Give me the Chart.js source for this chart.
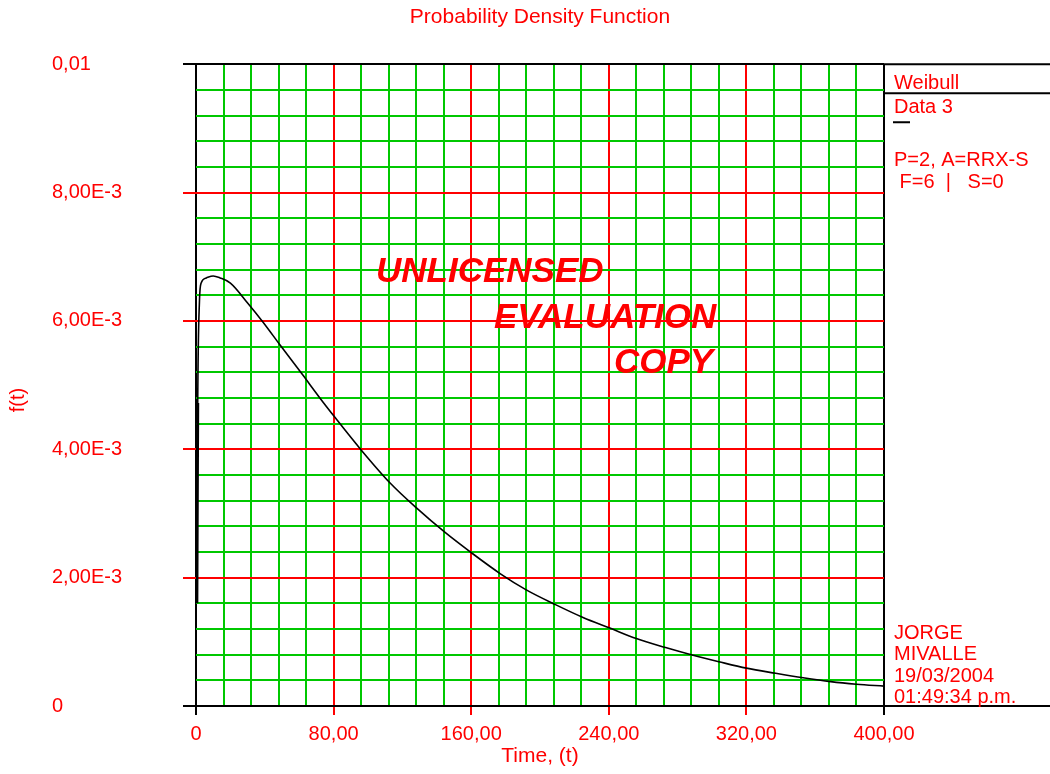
<!DOCTYPE html>
<html lang="en">
  <head>
    <meta charset="UTF-8" />
    <meta name="viewport" content="width=device-width, initial-scale=1.0" />
    <script src="https://cdn.jsdelivr.net/npm/chart.js"></script>
    <title>Probability Density Function</title>
    <style>
      html,
      body {
        margin: 0;
        padding: 0;
        background: #fff;
      }
      .chart-box {
        position: relative;
        width: 1050px;
        height: 774px;
      }
    </style>
  </head>

  <body>
    <div class="chart-box">
      <canvas id="pdfChart"></canvas>
    </div>
  </body>
</html>

<script>
  // f(t) of the Weibull fit, sampled along the time axis
  const times = [0.5, 1.0, 2.0, 3, 6, 10, 14, 20, 30, 39, 49, 62, 72, 81, 96, 113, 128, 145, 160, 177, 192, 209, 225, 241, 256, 273, 289, 304, 320, 337, 353, 369, 384, 400];
  const density = [
    0.0016, 0.00472, 0.0063, 0.00659, 0.00667, 0.0067, 0.00667, 0.00659, 0.00628, 0.00598, 0.00562, 0.00516,
    0.0048, 0.00449, 0.00399, 0.00347, 0.00309, 0.0027, 0.00239, 0.00206, 0.00181, 0.00158, 0.00138, 0.00121,
    0.00105, 0.00091, 0.00079, 0.00069, 0.00059, 0.00051, 0.00044, 0.00038, 0.00034, 0.00031,
  ];

  const xTickLabels = ['0', '80,00', '160,00', '240,00', '320,00', '400,00'];
  const yTickLabels = ['0', '2,00E-3', '4,00E-3', '6,00E-3', '8,00E-3', '0,01'];

  const legendHead = ['Weibull', 'Data 3'];
  const legendInfo = ['P=2, A=RRX-S', ' F=6  |   S=0'];
  const stamp = ['JORGE', 'MIVALLE', '19/03/2004', '01:49:34 p.m.'];
  const watermark = ['UNLICENSED', 'EVALUATION', 'COPY'];

  const RED = '#ff0000';
  const GREEN = '#00c800';

  Chart.defaults.font.family = '"Liberation Sans", Arial, sans-serif';

  // 25 minor divisions per axis, every 5th one is a red major line
  function gridColor(ctx) {
    const i = ctx.index;
    if (i === 0 || i === 25) return '#000';
    return i % 5 === 0 ? RED : GREEN;
  }

  function tickColor(ctx) {
    const i = ctx.index;
    if (i === 0 || i === 25) return '#000';
    return i % 5 === 0 ? RED : 'rgba(0,0,0,0)';
  }

  // legend box, notes and the evaluation stamp
  const extras = {
    id: 'extras',
    afterDraw(chart) {
      const { ctx, chartArea: a, scales } = chart;
      const y = scales.y;
      const w = chart.width;
      ctx.save();

      ctx.strokeStyle = '#000';
      ctx.lineWidth = 2;
      ctx.beginPath();
      [y.getPixelForValue(0.01), y.getPixelForValue(0)].forEach((py) => {
        ctx.moveTo(a.right, py);
        ctx.lineTo(w, py);
      });
      ctx.moveTo(a.right, a.top + 29);
      ctx.lineTo(w, a.top + 29);
      ctx.moveTo(a.right + 9, a.top + 58);
      ctx.lineTo(a.right + 26, a.top + 58);
      ctx.stroke();

      ctx.fillStyle = RED;
      ctx.font = '20px "Liberation Sans", Arial, sans-serif';
      ctx.textAlign = 'left';
      ctx.textBaseline = 'alphabetic';
      const tx = a.right + 10;
      ctx.fillText(legendHead[0], tx, a.top + 25);
      ctx.fillText(legendHead[1], tx, a.top + 49);
      ctx.fillText(legendInfo[0], tx, a.top + 102);
      ctx.fillText(legendInfo[1], tx, a.top + 124);
      stamp.forEach((s, i) => ctx.fillText(s, tx, a.bottom - 67 + i * 21.3));

      // y axis title
      ctx.save();
      ctx.translate(18, 400);
      ctx.rotate(-Math.PI / 2);
      ctx.textAlign = 'center';
      ctx.textBaseline = 'middle';
      ctx.fillText('f(t)', 0, 0);
      ctx.restore();

      ctx.font = 'italic bold 35px "Liberation Sans", Arial, sans-serif';
      ctx.fillText(watermark[0], a.left + 180, a.top + 218);
      ctx.fillText(watermark[1], a.left + 298, a.top + 264);
      ctx.fillText(watermark[2], a.left + 418, a.top + 309);

      ctx.restore();
    },
  };

  new Chart(document.getElementById('pdfChart'), {
    type: 'line',
    data: {
      datasets: [
        {
          data: times.map((t, i) => ({ x: t, y: density[i] })),
          borderColor: '#000',
          borderWidth: 1.6,
          pointRadius: 0,
          cubicInterpolationMode: 'monotone',
          segment: {
            borderWidth: (c) => (c.p0DataIndex === 0 ? 3 : 1.6),
          },
        },
      ],
    },
    options: {
      responsive: true,
      maintainAspectRatio: false,
      animation: false,
      layout: {
        padding: { left: 52, right: 166, top: 0, bottom: 0 },
      },
      plugins: {
        legend: { display: false },
        tooltip: { enabled: false },
        title: {
          display: true,
          fullSize: false,
          text: 'Probability Density Function',
          color: RED,
          font: { size: 21, weight: 'normal' },
          padding: { top: 5, bottom: 34 },
        },
      },
      scales: {
        x: {
          type: 'linear',
          min: 0,
          max: 400,
          border: { display: false },
          grid: { color: gridColor, tickColor: tickColor, lineWidth: 2, tickLength: 9 },
          ticks: {
            count: 26,
            autoSkip: false,
            maxRotation: 0,
            padding: 7,
            color: RED,
            font: { size: 20 },
            callback: (v, i) => (i % 5 === 0 ? xTickLabels[i / 5] : ''),
          },
          title: {
            display: true,
            text: 'Time, (t)',
            color: RED,
            font: { size: 21 },
            padding: { top: 0, bottom: 5 },
          },
          afterFit: (s) => {
            s.height = 68;
          },
        },
        y: {
          type: 'linear',
          min: 0,
          max: 0.01,
          border: { display: false },
          grid: { color: gridColor, tickColor: tickColor, lineWidth: 2, tickLength: 13 },
          ticks: {
            count: 26,
            autoSkip: false,
            crossAlign: 'far',
            color: RED,
            font: { size: 20 },
            callback: (v, i) => (i % 5 === 0 ? yTickLabels[i / 5] : ''),
          },
          afterFit: (s) => {
            s.width = 144;
          },
        },
      },
    },
    plugins: [extras],
  });
</script>
